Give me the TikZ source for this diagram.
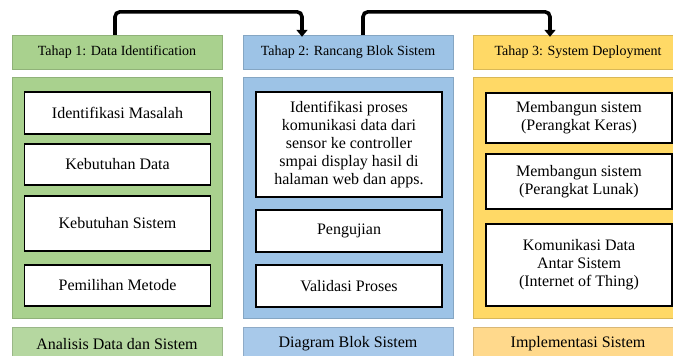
\documentclass[tikz,border=0pt]{standalone}
\usepackage{fontspec}
\setmainfont{Liberation Serif}
\usepackage{xcolor}
\usetikzlibrary{arrows.meta,positioning,calc}
\definecolor{grn}{RGB}{169,209,142}
\definecolor{blu}{RGB}{157,195,230}
\definecolor{org}{RGB}{255,217,102}
\definecolor{grnlt}{RGB}{181,215,160}
\definecolor{blult}{RGB}{168,201,234}
\definecolor{orglt}{RGB}{255,217,140}

\begin{document}
\begin{tikzpicture}[x=1pt, y=-1pt,
    head/.style={draw=#1!85!black, line width=0.4pt, fill=#1, minimum width=210pt, minimum height=34pt, inner sep=0pt, font=\fontsize{14}{16}\selectfont},
    panel/.style={draw=#1!85!black, line width=0.4pt, fill=#1, minimum width=210pt, minimum height=241pt, inner sep=0pt},
    item/.style={draw, line width=1.3pt, fill=white, minimum width=186pt, align=center, inner sep=0pt, font=\fontsize{16}{18}\selectfont},
    foot/.style={head=#1, font=\fontsize{16}{18}\selectfont},
    arr/.style={-{Triangle[length=7pt, width=11pt]}, line width=3.6pt, rounded corners=5pt},
]
    \useasboundingbox (0,0) rectangle (673,356);

    % Headers
    \node[head=grn] (h1) at (117, 52) {Tahap 1: Data Identification};
    \node[head=blu] (h2) at (348, 52) {Tahap 2: Rancang Blok Sistem};
    \node[head=org] (h3) at (578, 52) {Tahap 3: System Deployment};

    % Panels
    \node[panel=grn] (p1) at (117, 197.5) {};
    \node[panel=blu] (p2) at (348, 197.5) {};
    \node[panel=org] (p3) at (578, 197.5) {};

    % Tahap 1
    \node[item, minimum height=42pt] (idm) at (117.5, 113) {Identifikasi Masalah};
    \node[item, minimum height=41pt] (kbd) at (117.5, 164.5) {Kebutuhan Data};
    \node[item, minimum height=55pt] (kbs) at (117.5, 223.5) {Kebutuhan Sistem};
    \node[item, minimum height=41pt] (pmm) at (117.5, 285.5) {Pemilihan Metode};

    % Tahap 2
    \node[item, minimum height=105pt] (idp) at (349, 144.5) {Identifikasi proses\\komunikasi data dari\\sensor ke controller\\smpai display hasil di\\halaman web dan apps.};
    \node[item, minimum height=42pt] (uji) at (349, 231) {Pengujian};
    \node[item, minimum height=42pt] (val) at (349, 286) {Validasi Proses};

    % Tahap 3
    \node[item, minimum height=50pt] (bkr) at (579, 118) {Membangun sistem\\(Perangkat Keras)};
    \node[item, minimum height=55pt] (bln) at (579, 181.5) {Membangun sistem\\(Perangkat Lunak)};
    \node[item, minimum height=82pt] (kom) at (579, 265) {Komunikasi Data\\Antar Sistem\\(Internet of Thing)};

    % Bottom labels
    \node[foot=grnlt] (l1) at (117, 344) {Analisis Data dan Sistem};
    \node[foot=blult] (l2) at (348, 344) {Diagram Blok Sistem};
    \node[foot=orglt] (l3) at (578, 344) {Implementasi Sistem};

    % Arrows
    \draw[arr] ([xshift=-2pt]h1.north) -- ++(0,-23) -| ([xshift=-46pt,yshift=-2pt]h2.north);
    \draw[arr] ([xshift=15pt]h2.north) -- ++(0,-23) -| ([xshift=-28pt,yshift=-2pt]h3.north);
\end{tikzpicture}
\end{document}
